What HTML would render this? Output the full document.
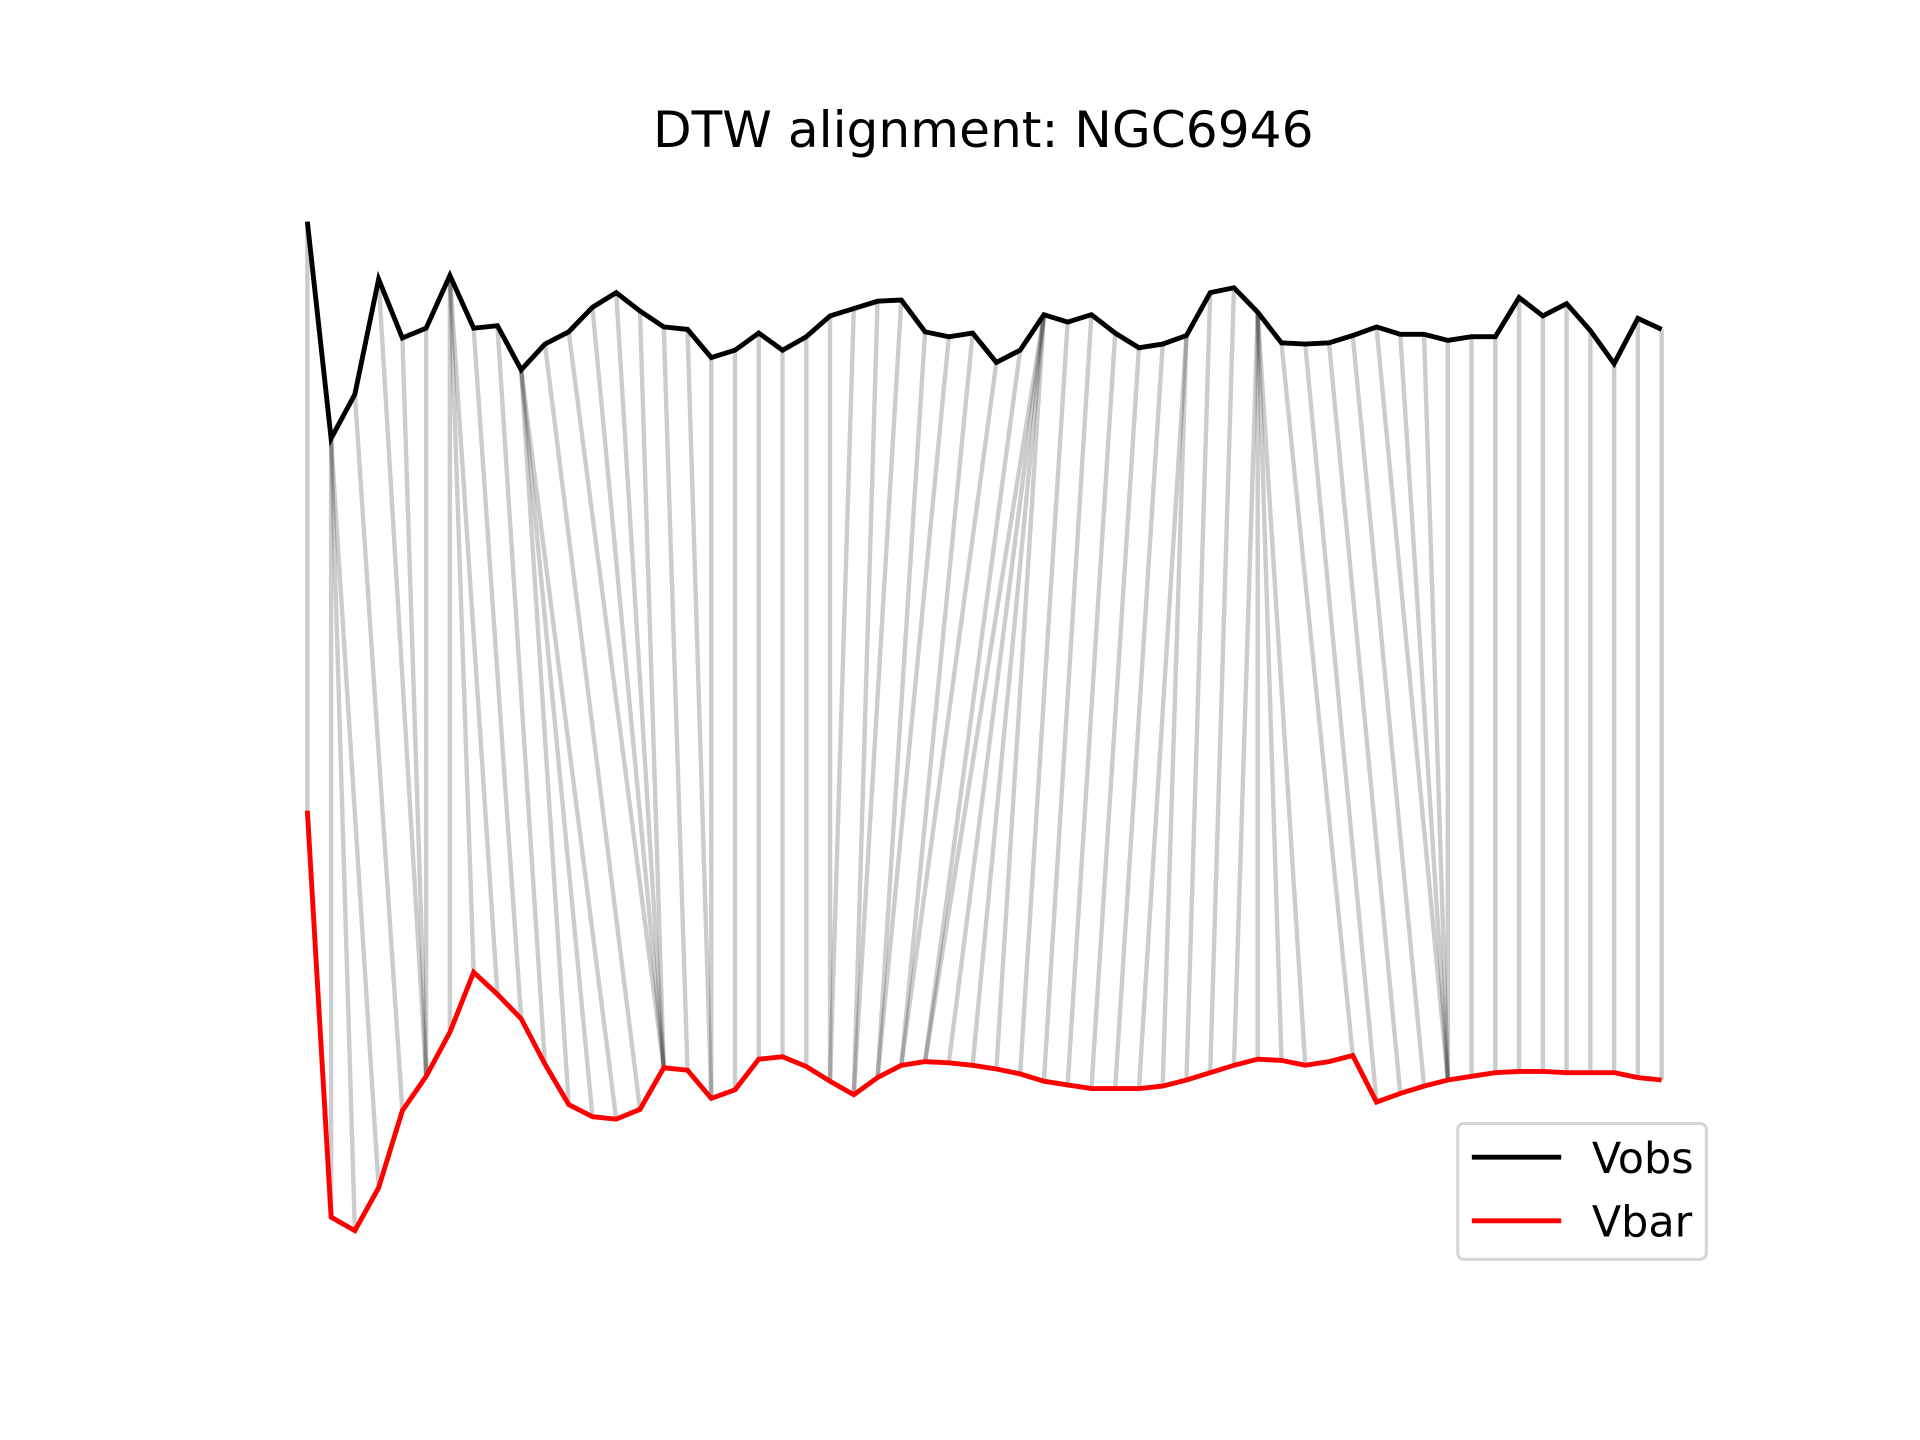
<!DOCTYPE html>
<html><head><meta charset="utf-8"><style>
html,body{margin:0;padding:0;background:#fff;}
svg{display:block;}
</style></head><body>
<svg id="chart" width="1920" height="1440" viewBox="0 0 1568 1176" xmlns="http://www.w3.org/2000/svg">
<rect width="1568" height="1176" fill="#fff"/>
<text x="803" y="120" text-anchor="middle" font-family="DejaVu Sans, Liberation Sans, sans-serif" font-size="41" fill="#000">DTW alignment: NGC6946</text>
<g id="links"></g>
<g id="series"></g>
<g>
<rect x="1190.5" y="917.5" width="203" height="111" rx="5" fill="#fff" stroke="#d5d5d5" stroke-width="2.5"/>
<line x1="1202" y1="945" x2="1275" y2="945" stroke="#000" stroke-width="4"/>
<text x="1300" y="958" font-family="DejaVu Sans, Liberation Sans, sans-serif" font-size="35" fill="#000">Vobs</text>
<line x1="1202" y1="997" x2="1275" y2="997" stroke="#f00" stroke-width="4"/>
<text x="1300" y="1010" font-family="DejaVu Sans, Liberation Sans, sans-serif" font-size="35" fill="#000">Vbar</text>
</g>
</svg>
<script>
const vobs = [9.19,7.42,7.78,8.72,8.24,8.32,8.75,8.32,8.34,7.98,8.19,8.29,8.49,8.61,8.46,8.33,8.31,8.08,8.14,8.28,8.14,8.25,8.42,8.48,8.54,8.55,8.29,8.25,8.28,8.04,8.14,8.43,8.37,8.43,8.28,8.16,8.19,8.26,8.61,8.65,8.45,8.20,8.19,8.20,8.26,8.33,8.27,8.27,8.22,8.25,8.25,8.57,8.42,8.52,8.30,8.03,8.40,8.31];
const vbar = [4.38,1.06,0.95,1.30,1.93,2.21,2.57,3.06,2.88,2.68,2.31,1.98,1.88,1.86,1.94,2.28,2.26,2.03,2.10,2.35,2.37,2.29,2.17,2.06,2.20,2.30,2.33,2.32,2.30,2.27,2.23,2.17,2.14,2.11,2.11,2.11,2.13,2.18,2.24,2.30,2.35,2.34,2.30,2.33,2.38,2.00,2.07,2.13,2.18,2.21,2.24,2.25,2.25,2.24,2.24,2.24,2.20,2.18];
const pathObs = [0,1,1,1,2,3,4,5,6,6,6,7,8,9,9,9,10,11,12,13,14,15,16,17,18,19,20,21,22,23,24,25,26,27,28,29,30,31,31,31,31,32,33,34,35,36,37,37,38,39,40,40,40,40,41,42,43,44,45,46,47,48,49,50,51,52,53,54,55,56,57];
const pathBar = [0,1,2,3,4,5,5,5,6,7,8,9,10,11,12,13,14,15,15,15,15,16,17,17,18,19,20,21,22,22,23,23,24,24,25,25,26,26,27,28,29,30,31,32,33,34,35,36,37,38,39,40,41,42,44,45,46,47,48,48,48,48,49,50,51,52,53,54,55,56,57];

const NS = 'http://www.w3.org/2000/svg';
const xScale = i => 251 + i * (1357 - 251) / (vobs.length - 1);
const yScale = v => 1100 - 100 * v;

const links = document.getElementById('links');
for (let k = 0; k < pathObs.length; k++) {
  const i = pathObs[k], j = pathBar[k];
  const l = document.createElementNS(NS, 'line');
  l.setAttribute('x1', xScale(i)); l.setAttribute('y1', yScale(vobs[i]));
  l.setAttribute('x2', xScale(j)); l.setAttribute('y2', yScale(vbar[j]));
  l.setAttribute('stroke', '#000'); l.setAttribute('stroke-opacity', '0.2');
  l.setAttribute('stroke-width', '3.6');
  
  
  links.appendChild(l);
}
const series = document.getElementById('series');
function drawLine(vals, color, name) {
  const p = document.createElementNS(NS, 'polyline');
  p.setAttribute('points', vals.map((v, i) => xScale(i) + ',' + yScale(v)).join(' '));
  p.setAttribute('fill', 'none'); p.setAttribute('stroke', color);
  p.setAttribute('stroke-width', '4'); p.setAttribute('stroke-linejoin', 'miter');
  
  
  series.appendChild(p);
}
drawLine(vobs, '#000', 'vobs-line');
drawLine(vbar, '#f00', 'vbar-line');
</script>
</body></html>
